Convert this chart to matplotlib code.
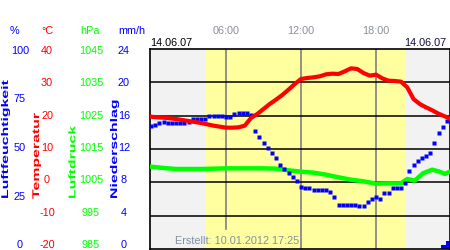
import numpy as np
import matplotlib
matplotlib.use('Agg')
import matplotlib.pyplot as plt
from matplotlib.patheffects import AbstractPathEffect
from matplotlib.transforms import Affine2D

plt.rcParams['font.family'] = ['Liberation Sans', 'DejaVu Sans']

date = '14.06.07'
created = 'Erstellt: 10.01.2012 17:25'

# Luftfeuchtigkeit in %, alle 20 Minuten
hum_hours = np.linspace(0, 24, 73)
humidity = [61.5, 62, 63, 63.5, 63, 63, 63, 63, 63, 63.5,
            65, 65, 65, 65, 66.5, 66.5, 66.5, 66.5, 66, 66,
            67.5, 68, 68, 68, 67, 59, 56, 53, 50.5, 48,
            45.5, 42, 40, 38, 36, 34, 31, 30.5, 30.5, 29.5,
            29.5, 29.5, 29.5, 28.5, 26, 22, 22, 22, 22, 22,
            21.5, 21.5, 23.5, 25, 26, 25, 28, 28, 30.5, 30.5,
            30.5, 33, 39, 42, 44, 45.5, 46.5, 48, 53, 58,
            61, 64, 66]

# Temperatur in °C, alle 30 Minuten
temp_hours = np.linspace(0, 24, 49)
temperature = [19.7, 19.5, 19.4, 19.2, 19.0, 18.7, 18.4, 18.1, 17.8, 17.4,
               17.0, 16.7, 16.4, 16.4, 16.5, 17.0, 19.3, 20.5, 22.0, 23.5,
               24.8, 26.2, 27.8, 29.5, 31.0, 31.3, 31.5, 31.8, 32.4, 32.6,
               32.5, 33.3, 34.2, 34.0, 32.8, 32.0, 32.3, 31.2, 30.5, 30.4,
               30.2, 28.5, 25.0, 23.5, 22.5, 21.6, 20.6, 19.8, 19.0]

# Luftdruck in hPa
press_hours = [0, 1, 2, 3, 4, 5, 6, 7, 8, 9, 10, 11, 12, 13, 14, 15, 16, 17, 18, 19,
               20, 20.5, 21.1, 21.75, 22.5, 23.1, 23.5, 23.9]
pressure = [1009.7, 1009.3, 1009.0, 1009.0, 1009.0, 1009.1, 1009.2, 1009.2, 1009.2, 1009.2,
            1009.1, 1008.6, 1008.2, 1007.9, 1007.3, 1006.5, 1005.8, 1005.3, 1004.6, 1004.7,
            1004.7, 1006.0, 1005.5, 1007.7, 1008.8, 1008.2, 1007.5, 1008.2]

# Niederschlag in mm/h
rain_start = [23.2, 23.6]
rain = [0.5, 1.0]

sunrise, sunset = 4.38, 20.38

hum_ticks = [100, 75, 50, 25, 0]
temp_ticks = [40, 30, 20, 10, 0, -10, -20]
press_ticks = [1045, 1035, 1025, 1015, 1005, 995, 985]
rain_ticks = [24, 20, 16, 12, 8, 4, 0]
hour_ticks = [6, 12, 18]
hour_labels = ['06:00', '12:00', '18:00']


class Stretch(AbstractPathEffect):
    # zieht die Schrift in Leserichtung auseinander
    def __init__(self, sx):
        super().__init__()
        self.sx = sx

    def draw_path(self, renderer, gc, tpath, affine, rgbFace=None):
        renderer.draw_path(gc, tpath, Affine2D().scale(self.sx, 1) + affine, rgbFace)


def from_hum(v):
    return -20 + np.asarray(v) * 0.6


def from_press(v):
    return np.asarray(v) - 1005


def from_rain(v):
    return np.asarray(v) * 2.5


W, H = 450, 250
fig = plt.figure(figsize=(4.5, 2.5), dpi=100)
ax = fig.add_axes([150 / W, 1 / H, 300 / W, 200 / H])
ax.set_facecolor('#f2f2f2')
ax.set_xlim(-0.08, 23.92)
ax.set_ylim(-20, 40)
ax.axvspan(sunrise, sunset, color='#ffffa0', lw=0, zorder=0)
for h in hour_ticks:
    ax.axvline(h, ymin=0.1 if h == 6 else 0, color='#808080', lw=1.2, zorder=1)
for t in temp_ticks[1:-1]:
    ax.axhline(t, color='black', lw=1.1, zorder=1)

ax.bar(rain_start, from_rain(rain), width=0.4, bottom=-20, align='edge', color='#0000ff', zorder=2)
ax.plot(press_hours, from_press(pressure), color='#00ff00', lw=3.2, zorder=3)
ax.plot(hum_hours, from_hum(humidity), 's', color='#0000ff', ms=3, mec='none', zorder=4)
ax.plot(temp_hours, temperature, color='#ff0000', lw=3, zorder=5)

ax.set_xticks([])
ax.set_yticks([])
for s in ax.spines.values():
    s.set_color('black')
    s.set_linewidth(1.2)


def put(x, y, s, **kw):
    fig.text(x / W, 1 - y / H, s, **kw)


fs = 7.8
put(14, 34, '%', color='#0000ff', ha='center', va='baseline', fontsize=fs)
put(47, 34, '°C', color='#ff0000', ha='center', va='baseline', fontsize=fs)
put(90, 34, 'hPa', color='#00ff00', ha='center', va='baseline', fontsize=fs)
put(132, 34, 'mm/h', color='#0000ff', ha='center', va='baseline', fontsize=fs)

for i, v in enumerate(hum_ticks):
    put(20, 54 + i * 194 / 4, str(v), color='#0000ff', ha='center', va='baseline', fontsize=fs)
for i in range(7):
    y = 54 + i * 194 / 6
    put(47, y, str(temp_ticks[i]), color='#ff0000', ha='center', va='baseline', fontsize=fs)
    put(91, y, str(press_ticks[i]), color='#00ff00', ha='center', va='baseline', fontsize=fs)
    put(124, y, str(rain_ticks[i]), color='#0000ff', ha='center', va='baseline', fontsize=fs)

side = [(5, 'Luftfeuchtigkeit', '#0000ff'), (36, 'Temperatur', '#ff0000'),
        (72.3, 'Luftdruck', '#00ff00'), (114, 'Niederschlag', '#0000ff')]
for x, s, c in side:
    put(x, 199, s, color=c, rotation=90, ha='center', va='bottom', fontsize=7,
        fontweight='bold', path_effects=[Stretch(1.63)])

for h, lab in zip(hour_ticks, hour_labels):
    put(151 + h * 12.5, 33.5, lab, color='#8a909a', ha='center', va='baseline', fontsize=fs)

put(150, 46.5, date, color='black', ha='left', va='baseline', fontsize=fs)
put(446, 46.5, date, color='#101040', ha='right', va='baseline', fontsize=fs)
put(175, 244.5, created, color='#8090a0', ha='left', va='baseline', fontsize=fs)

fig.savefig('out.png', dpi=100)
